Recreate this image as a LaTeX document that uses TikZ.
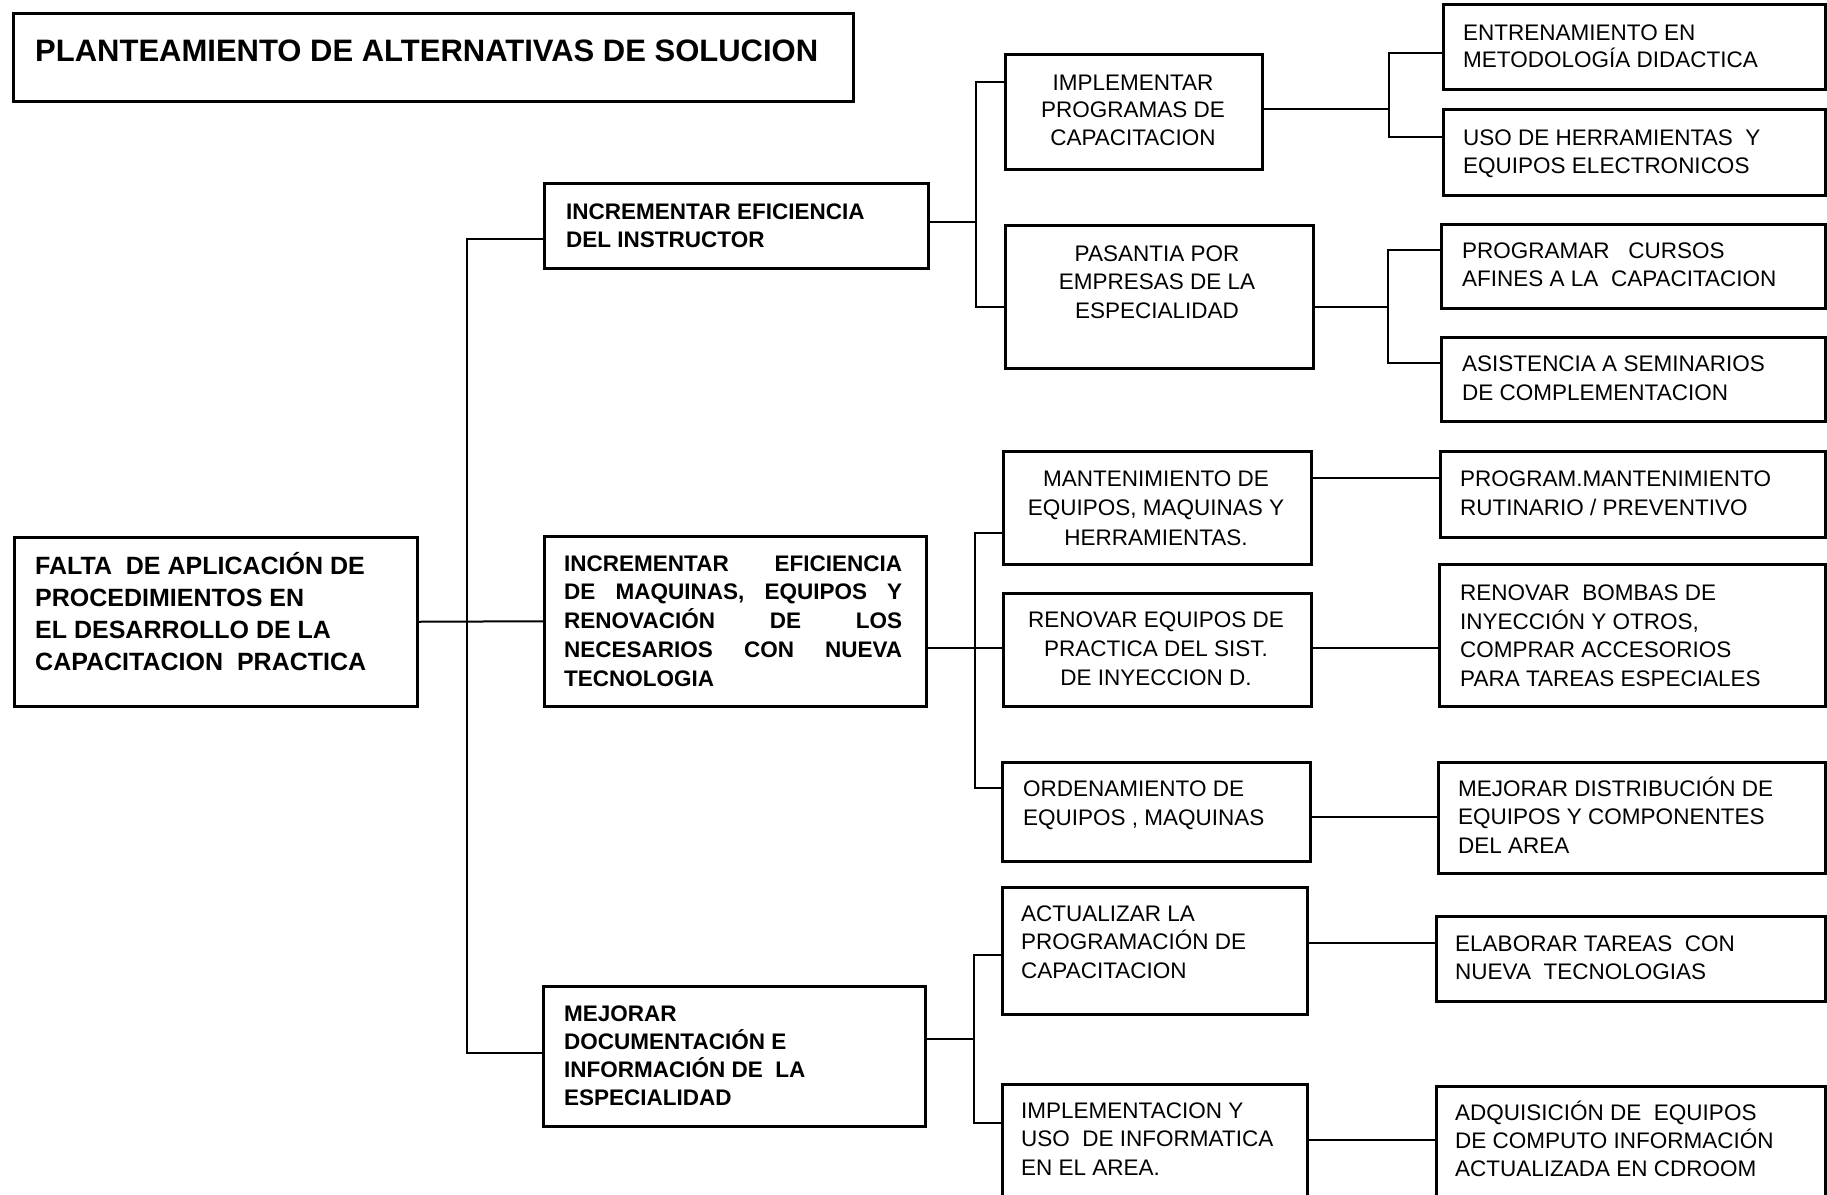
\documentclass[tikz,border=0pt]{standalone}
\usepackage{fontspec}
\setmainfont{Liberation Sans}
\usetikzlibrary{calc}
\newcommand{\bx}[5]{\node[box,minimum width={#4-#2},minimum height={#5-#3}] (#1) at (#2,#3) {};}
\begin{document}
\begin{tikzpicture}[x=1pt,y=-1pt,
  box/.style={draw=black,line width=2.5pt,rectangle,inner sep=0pt,anchor=north west},
  conn/.style={draw=black,line width=2pt},
  reg/.style={inner sep=0pt,font=\fontsize{22.5}{28}\selectfont,align=left,anchor=base west},
  regc/.style={inner sep=0pt,font=\fontsize{22.5}{28.5}\selectfont,align=center,anchor=base},
  bld/.style={inner sep=0pt,font=\bfseries\fontsize{22.5}{28}\selectfont,align=left,anchor=base west}]
\useasboundingbox (0,0) rectangle (1827,1194);
\fill[white] (0,0) rectangle (1827,1194);
\clip (0,0) rectangle (1827,1194);
% boxes
\bx{title}{12}{12}{852}{100}
\bx{root}{13}{536}{416}{705}
\bx{b1}{543}{182}{927}{267}
\bx{b2}{543}{535}{925}{705}
\bx{b3}{542}{985}{924}{1125}
\bx{c1}{1004}{53}{1261}{168}
\bx{c2}{1004}{224}{1312}{367}
\bx{d1}{1442}{3}{1824}{88}
\bx{d2}{1442}{108}{1824}{194}
\bx{d3}{1440}{223}{1824}{307}
\bx{d4}{1440}{336}{1824}{420}
\bx{e1}{1002}{450}{1310}{563}
\bx{e2}{1002}{592}{1310}{705}
\bx{e3}{1001}{761}{1309}{860}
\bx{f1}{1439}{450}{1824}{536}
\bx{f2}{1438}{563}{1824}{705}
\bx{f3}{1437}{761}{1824}{872}
\bx{g1}{1001}{886}{1306}{1013}
\bx{g2}{1001}{1083}{1306}{1210}
\bx{h1}{1435}{915}{1824}{1000}
\bx{h2}{1435}{1085}{1824}{1210}
% texts (anchor = baseline of the last line)
\node[inner sep=0pt,anchor=base west,font=\bfseries\fontsize{31}{36}\selectfont] (titlet) at (35,61) {PLANTEAMIENTO DE ALTERNATIVAS DE SOLUCION};
\node[inner sep=0pt,anchor=base west,align=left,font=\bfseries\fontsize{25}{32}\selectfont] (roott) at (35,670)
  {FALTA\ \ DE APLICACIÓN DE\\PROCEDIMIENTOS EN\\EL DESARROLLO DE LA\\CAPACITACION\ \ PRACTICA};
\node[bld] (b1t) at (566,247) {INCREMENTAR EFICIENCIA\\DEL INSTRUCTOR};
\node[bld,font=\bfseries\fontsize{22.5}{28.7}\selectfont] (b2t) at (564,686)
  {\makebox[338pt][s]{INCREMENTAR EFICIENCIA}\\\makebox[338pt][s]{DE MAQUINAS, EQUIPOS Y}\\\makebox[338pt][s]{RENOVACIÓN DE LOS}\\\makebox[338pt][s]{NECESARIOS CON NUEVA}\\TECNOLOGIA};
\node[bld] (b3t) at (564,1105) {MEJORAR\\DOCUMENTACIÓN E\\INFORMACIÓN DE\ \ LA\\ESPECIALIDAD};
\node[regc,font=\fontsize{22.5}{27.5}\selectfont] (c1t) at (1133,145) {IMPLEMENTAR\\PROGRAMAS DE\\CAPACITACION};
\node[regc] (c2t) at (1157,318) {PASANTIA POR\\EMPRESAS DE LA\\ESPECIALIDAD};
\node[reg,font=\fontsize{22.5}{27}\selectfont] (d1t) at (1463,67) {ENTRENAMIENTO EN\\METODOLOGÍA DIDACTICA};
\node[reg] (d2t) at (1463,173) {USO DE HERRAMIENTAS\ \ Y\\EQUIPOS ELECTRONICOS};
\node[reg] (d3t) at (1462,286) {PROGRAMAR\ \ \ CURSOS\\AFINES A LA\ \ CAPACITACION};
\node[reg,font=\fontsize{22.5}{29}\selectfont] (d4t) at (1462,400) {ASISTENCIA A SEMINARIOS\\DE COMPLEMENTACION};
\node[regc,font=\fontsize{22.5}{29.5}\selectfont] (e1t) at (1156,545) {MANTENIMIENTO DE\\EQUIPOS, MAQUINAS Y\\HERRAMIENTAS.};
\node[regc,font=\fontsize{22.5}{29}\selectfont] (e2t) at (1156,685) {RENOVAR EQUIPOS DE\\PRACTICA DEL SIST.\\DE INYECCION D.};
\node[reg,font=\fontsize{22.5}{29}\selectfont] (e3t) at (1023,825) {ORDENAMIENTO DE\\EQUIPOS , MAQUINAS};
\node[reg,font=\fontsize{22.5}{29}\selectfont] (f1t) at (1460,515) {PROGRAM.MANTENIMIENTO\\RUTINARIO / PREVENTIVO};
\node[reg,font=\fontsize{22.5}{28.5}\selectfont] (f2t) at (1460,686) {RENOVAR\ \ BOMBAS DE\\INYECCIÓN Y OTROS,\\COMPRAR ACCESORIOS\\PARA TAREAS ESPECIALES};
\node[reg,font=\fontsize{22.5}{28.5}\selectfont] (f3t) at (1458,853) {MEJORAR DISTRIBUCIÓN DE\\EQUIPOS Y COMPONENTES\\DEL AREA};
\node[reg,font=\fontsize{22.5}{28.5}\selectfont] (g1t) at (1021,978) {ACTUALIZAR LA\\PROGRAMACIÓN DE\\CAPACITACION};
\node[reg,font=\fontsize{22.5}{28.5}\selectfont] (g2t) at (1021,1175) {IMPLEMENTACION Y\\USO\ \ DE INFORMATICA\\EN EL AREA.};
\node[reg] (h1t) at (1455,979) {ELABORAR TAREAS\ \ CON\\NUEVA\ \ TECNOLOGIAS};
\node[reg] (h2t) at (1455,1176) {ADQUISICIÓN DE\ \ EQUIPOS\\DE COMPUTO INFORMACIÓN\\ACTUALIZADA EN CDROOM};
% connectors
\coordinate (tA) at (467,239); \coordinate (tB) at (467,1053);
\draw[conn] (root.east) -- (b2.west);
\draw[conn] (tA -| b1.west) -- (tA) -- (tB) -- (tB -| b3.west);
\coordinate (k0) at (976,222); \coordinate (k1) at (976,82); \coordinate (k2) at (976,307);
\draw[conn] (k0 -| b1.east) -- (k0);
\draw[conn] (k1 -| c1.west) -- (k1) -- (k2) -- (k2 -| c2.west);
\coordinate (m0) at (1389,109); \coordinate (m1) at (1389,53); \coordinate (m2) at (1389,137);
\draw[conn] (m0 -| c1.east) -- (m0);
\draw[conn] (m1 -| d1.west) -- (m1) -- (m2) -- (m2 -| d2.west);
\coordinate (n0) at (1388,307); \coordinate (n1) at (1388,250); \coordinate (n2) at (1388,363);
\draw[conn] (n0 -| c2.east) -- (n0);
\draw[conn] (n1 -| d3.west) -- (n1) -- (n2) -- (n2 -| d4.west);
\coordinate (p0) at (975,648); \coordinate (p1) at (975,533); \coordinate (p3) at (975,788);
\draw[conn] (p0 -| b2.east) -- (p0) -- (p0 -| e2.west);
\draw[conn] (p1 -| e1.west) -- (p1) -- (p3) -- (p3 -| e3.west);
\coordinate (q1) at (0,478); \coordinate (q2) at (0,648); \coordinate (q3) at (0,817);
\draw[conn] (q1 -| e1.east) -- (q1 -| f1.west);
\draw[conn] (q2 -| e2.east) -- (q2 -| f2.west);
\draw[conn] (q3 -| e3.east) -- (q3 -| f3.west);
\coordinate (r0) at (974,1039); \coordinate (r1) at (974,955); \coordinate (r2) at (974,1123);
\draw[conn] (r0 -| b3.east) -- (r0);
\draw[conn] (r1 -| g1.west) -- (r1) -- (r2) -- (r2 -| g2.west);
\coordinate (s1) at (0,943); \coordinate (s2) at (0,1140);
\draw[conn] (s1 -| g1.east) -- (s1 -| h1.west);
\draw[conn] (s2 -| g2.east) -- (s2 -| h2.west);
\end{tikzpicture}
\end{document}
